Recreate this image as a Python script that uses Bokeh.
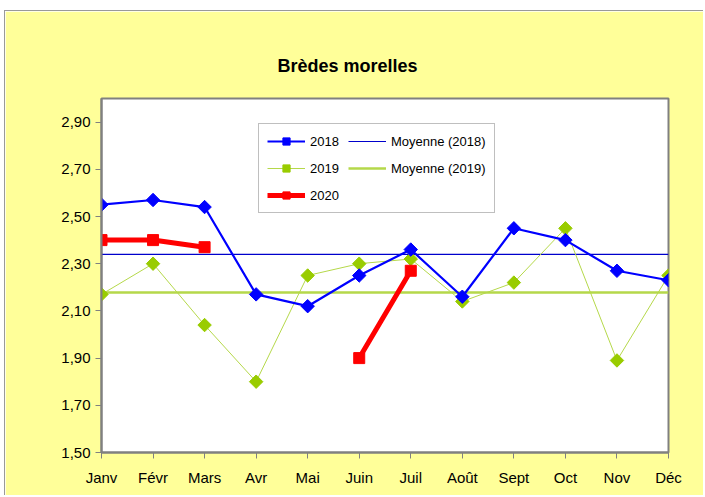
import numpy as np
from bokeh.plotting import figure
from bokeh.models import Range1d, FixedTicker, Legend, LegendItem, Title
from bokeh.embed import file_html
from bokeh.resources import INLINE

months = ["Janv", "Févr", "Mars", "Avr", "Mai", "Juin", "Juil", "Août", "Sept", "Oct", "Nov", "Déc"]
y2018 = [2.55, 2.57, 2.54, 2.17, 2.12, 2.25, 2.36, 2.16, 2.45, 2.40, 2.27, 2.23]
y2019 = [2.17, 2.30, 2.04, 1.80, 2.25, 2.30, 2.32, 2.14, 2.22, 2.45, 1.89, 2.25]
y2020 = [2.40, 2.40, 2.37, np.nan, np.nan, 1.90, 2.27, np.nan, np.nan, np.nan, np.nan, np.nan]
y_ticks = [1.50, 1.70, 1.90, 2.10, 2.30, 2.50, 2.70, 2.90]
y_tick_labels = ["1,50", "1,70", "1,90", "2,10", "2,30", "2,50", "2,70", "2,90"]
title_text = "Brèdes morelles"

x = list(range(len(months)))
mean2018 = float(np.mean(y2018))
mean2019 = float(np.mean(y2019))

p = figure(width=699, height=485, output_backend="svg", toolbar_location=None,
           x_range=Range1d(0, len(months) - 1), y_range=Range1d(1.5, 3.0),
           min_border_left=96, min_border_right=36, min_border_top=87, min_border_bottom=44)
p.styles = {"margin-left": "4px", "margin-top": "10px",
            "border-top": "1px solid #999999", "border-left": "1px solid #999999"}
p.background_fill_color = "white"
p.border_fill_color = "#FFFF99"
p.outline_line_color = "#808080"
p.outline_line_width = 2
p.xgrid.visible = False
p.ygrid.visible = False

t = Title(text=title_text, align="left", offset=176, text_font="Liberation Sans",
          text_font_size="18px", text_font_style="bold", text_color="black", standoff=45)
p.add_layout(t, "above")

FONT = "Liberation Sans"
for ax in (p.xaxis[0], p.yaxis[0]):
    ax.axis_line_color = "#808080"
    ax.axis_line_width = 2
    ax.major_tick_line_color = "#808080"
    ax.major_tick_out = 6
    ax.major_tick_in = 0
    ax.minor_tick_line_color = None
    ax.major_label_text_font = FONT
    ax.major_label_text_font_size = "15px"
    ax.major_label_text_color = "black"

p.xaxis.ticker = FixedTicker(ticks=x)
p.xaxis.major_label_overrides = {i: m for i, m in zip(x, months)}
p.xaxis.major_label_standoff = 10
p.yaxis.ticker = FixedTicker(ticks=y_ticks)
p.yaxis.major_label_overrides = {v: s for v, s in zip(y_ticks, y_tick_labels)}
p.yaxis.major_label_standoff = 5

# mean lines
r_m18 = p.line(x, [mean2018] * len(x), line_color="#0000CC", line_width=1.2)
r_m19 = p.line(x, [mean2019] * len(x), line_color="#B5D84A", line_width=2.5)

# 2019
l19 = p.line(x, y2019, line_color="#B5D84A", line_width=1)
s19 = p.scatter(x, y2019, marker="square", angle=np.pi / 4, size=9.5,
                fill_color="#99CC00", line_color="#99CC00")
# 2018
l18 = p.line(x, y2018, line_color="#0000FF", line_width=2.2)
s18 = p.scatter(x, y2018, marker="square", angle=np.pi / 4, size=9.5,
                fill_color="#0000FF", line_color="#0000FF")
# 2020
l20 = p.line(x, y2020, line_color="#FF0000", line_width=5)
s20 = p.scatter(x, y2020, marker="square", size=11, fill_color="#FF0000", line_color="#FF0000")

legend = Legend(items=[
    LegendItem(label="2018", renderers=[l18, s18]),
    LegendItem(label="2019", renderers=[l19, s19]),
    LegendItem(label="2020", renderers=[l20, s20]),
    LegendItem(label="Moyenne (2018)", renderers=[r_m18]),
    LegendItem(label="Moyenne (2019)", renderers=[r_m19]),
], location=(157, 239), ncols=2)
legend.border_line_color = "#808080"
legend.border_line_width = 1.5
legend.background_fill_color = "white"
legend.background_fill_alpha = 1
legend.label_text_font = FONT
legend.label_text_font_size = "13px"
legend.label_text_color = "black"
legend.glyph_width = 38
legend.glyph_height = 18
legend.label_height = 18
legend.label_standoff = 5
legend.spacing = 9
legend.padding = 8
legend.margin = 0
p.add_layout(legend, "center")

open("out.html", "w").write(file_html(p, INLINE))
